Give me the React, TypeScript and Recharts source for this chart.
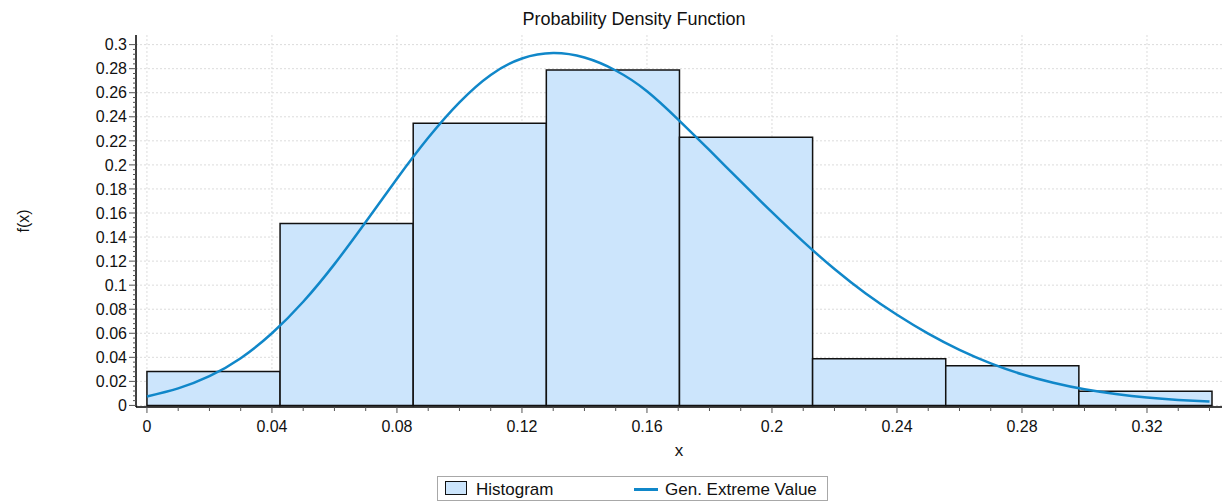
import { ComposedChart, Line, XAxis, YAxis, CartesianGrid, ReferenceArea } from 'recharts';

// histogram bins (edges + density per bin)
const BIN_EDGES = [0, 0.0426, 0.0852, 0.1278, 0.1704, 0.213, 0.2556, 0.2982, 0.3408];
const BIN_DENSITY = [0.0283, 0.1512, 0.2347, 0.2788, 0.223, 0.0388, 0.033, 0.0117];

// fitted Gen. Extreme Value pdf
const CURVE_X = [
  0, 0.01, 0.02, 0.03, 0.04, 0.05, 0.06, 0.07, 0.08, 0.09, 0.1, 0.11, 0.12, 0.13, 0.14, 0.15, 0.16, 0.17,
  0.18, 0.19, 0.2, 0.21, 0.22, 0.23, 0.24, 0.25, 0.26, 0.27, 0.28, 0.29, 0.3, 0.31, 0.32, 0.33, 0.34,
];
const CURVE_Y = [
  0.0075, 0.0142, 0.0243, 0.0393, 0.06, 0.0862, 0.1175, 0.1525, 0.1885, 0.2225, 0.252, 0.2748, 0.2885,
  0.293, 0.2893, 0.2785, 0.2613, 0.2377, 0.2122, 0.1862, 0.1607, 0.1362, 0.1134, 0.0931, 0.0754, 0.0597,
  0.0462, 0.035, 0.0259, 0.0188, 0.0134, 0.0095, 0.0066, 0.0046, 0.0032,
];

const X_TICKS = [0, 0.04, 0.08, 0.12, 0.16, 0.2, 0.24, 0.28, 0.32];
const Y_TICKS = [0, 0.02, 0.04, 0.06, 0.08, 0.1, 0.12, 0.14, 0.16, 0.18, 0.2, 0.22, 0.24, 0.26, 0.28, 0.3];

const X_DOMAIN = [-0.0035, 0.344];
const Y_DOMAIN = [-0.0013, 0.308];

const FONT = 'Arial, "Liberation Sans", sans-serif';
const BAR_FILL = '#cce5fc';
const CURVE_COLOR = '#1087c9';

const curve = CURVE_X.map((x, i) => ({ x, y: CURVE_Y[i] }));

// minor tick positions (axis decoration only)
const xMinor: number[] = [];
for (let i = 0; i <= 34; i++) xMinor.push(+(i * 0.01).toFixed(3));
const yMinor: number[] = [];
for (let i = 0; i <= 75; i++) yMinor.push(+(i * 0.004).toFixed(3));

const isMajor = (v: number, majors: number[]) => majors.some((m) => Math.abs(m - v) < 1e-6);
const fmt = (v: number) => String(parseFloat(v.toFixed(3)));

const XTick = (props: any) => {
  const { x, y, payload } = props;
  const major = isMajor(payload.value, X_TICKS);
  return (
    <g>
      <line x1={x} x2={x} y1={y} y2={y + (major ? 6 : 4)} stroke="#555" />
      {major && (
        <text x={x} y={y + 14} dy="0.71em" textAnchor="middle" fontSize={16} fontFamily={FONT} fill="#111">
          {fmt(payload.value)}
        </text>
      )}
    </g>
  );
};

const YTick = (props: any) => {
  const { x, y, payload } = props;
  const major = isMajor(payload.value, Y_TICKS);
  return (
    <g>
      <line x1={x - (major ? 7 : 3)} x2={x} y1={y} y2={y} stroke="#555" />
      {major && (
        <text x={x - 9} y={y} dy="0.355em" textAnchor="end" fontSize={16} fontFamily={FONT} fill="#111">
          {fmt(payload.value)}
        </text>
      )}
    </g>
  );
};

export default function App() {
  return (
    <div style={{ position: 'absolute', left: 0, top: 0, width: 1223, height: 502, background: '#fff', fontFamily: FONT }}>
      <div
        style={{
          position: 'absolute',
          left: 0,
          width: 1268,
          top: 10,
          textAlign: 'center',
          fontSize: 18,
          lineHeight: '18px',
          color: '#111',
        }}
      >
        Probability Density Function
      </div>

      <ComposedChart width={1223} height={502} data={curve} margin={{ top: 35, right: 1, bottom: 0, left: 0 }}>
        <CartesianGrid stroke="#dcdcdc" strokeDasharray="2 2" verticalValues={X_TICKS} horizontalValues={Y_TICKS} />
        <XAxis
          dataKey="x"
          type="number"
          domain={X_DOMAIN}
          ticks={xMinor}
          interval={0}
          height={95}
          tickSize={0}
          tickMargin={0}
          tickLine={false}
          tick={<XTick />}
          axisLine={{ stroke: '#000', strokeWidth: 1.5 }}
          label={{ value: 'x', position: 'insideTop', offset: 37, fontSize: 17, fill: '#111', fontFamily: FONT }}
        />
        <XAxis
          xAxisId="top"
          orientation="top"
          type="number"
          domain={X_DOMAIN}
          height={0}
          tick={false}
          tickLine={false}
          axisLine={{ stroke: '#000', strokeWidth: 1.5 }}
        />
        <YAxis
          type="number"
          domain={Y_DOMAIN}
          ticks={yMinor}
          interval={0}
          width={136}
          tickSize={0}
          tickMargin={0}
          tickLine={false}
          tick={<YTick />}
          axisLine={{ stroke: '#000', strokeWidth: 1.5 }}
          label={{
            value: 'f(x)',
            angle: -90,
            position: 'insideLeft',
            offset: 23,
            fontSize: 16,
            fill: '#111',
            fontFamily: FONT,
            style: { textAnchor: 'middle' },
          }}
        />
        <YAxis
          yAxisId="right"
          orientation="right"
          type="number"
          domain={Y_DOMAIN}
          width={0}
          tick={false}
          tickLine={false}
          axisLine={{ stroke: '#000', strokeWidth: 1.5 }}
        />
        {BIN_DENSITY.map((d, i) => (
          <ReferenceArea
            key={i}
            x1={BIN_EDGES[i]}
            x2={BIN_EDGES[i + 1]}
            y1={0}
            y2={d}
            fill={BAR_FILL}
            fillOpacity={1}
            stroke="#111"
            strokeWidth={1.5}
            ifOverflow="visible"
          />
        ))}
        <Line
          dataKey="y"
          type="natural"
          stroke={CURVE_COLOR}
          strokeWidth={2.5}
          dot={false}
          isAnimationActive={false}
        />
      </ComposedChart>

      <div
        style={{
          position: 'absolute',
          left: 437,
          top: 476,
          width: 391,
          height: 25,
          border: '1px solid #a8a8a8',
          boxSizing: 'border-box',
          fontSize: 17,
          lineHeight: '17px',
          color: '#111',
        }}
      >
        <div
          style={{
            position: 'absolute',
            left: 7,
            top: 4,
            width: 22,
            height: 14,
            background: BAR_FILL,
            border: '1px solid #111',
            boxSizing: 'border-box',
          }}
        />
        <div style={{ position: 'absolute', left: 38, top: 4 }}>Histogram</div>
        <div style={{ position: 'absolute', left: 196, top: 11, width: 24, height: 3, background: CURVE_COLOR }} />
        <div style={{ position: 'absolute', left: 227, top: 4 }}>Gen. Extreme Value</div>
      </div>
    </div>
  );
}
